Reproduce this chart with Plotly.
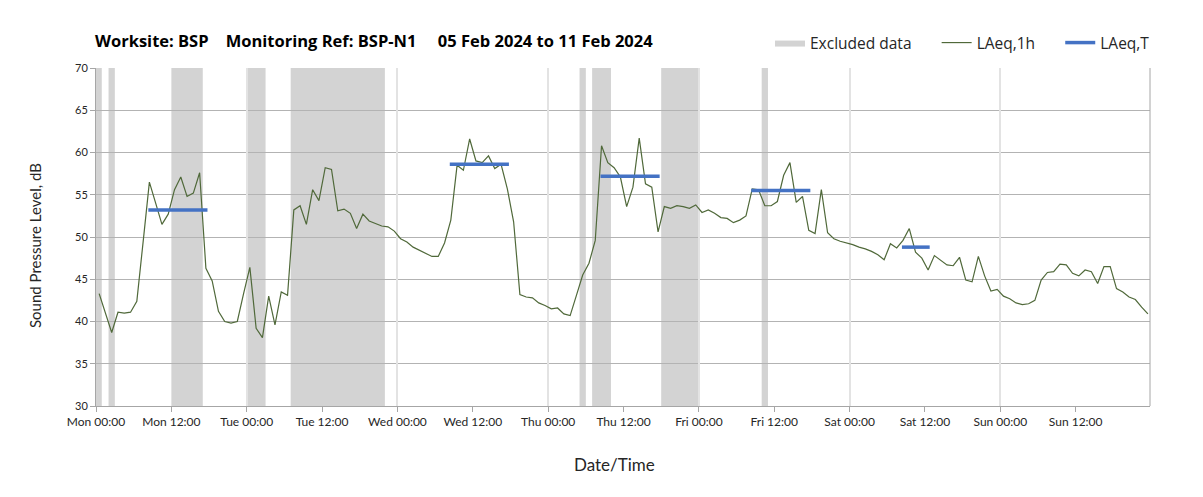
import pandas as pd
import plotly.graph_objects as go

# hourly LAeq,1h values, Mon 05 Feb 2024 00:00 -> Sun 11 Feb 2024 23:00
laeq_1h = [
    43.3, 40.9, 38.7, 41.1, 41.0, 41.1, 42.4, 49.4, 56.5, 54.0, 51.5, 52.7,
    55.6, 57.1, 54.8, 55.2, 57.6, 46.3, 44.8, 41.2, 40.0, 39.8, 40.0, 43.3,
    46.4, 39.2, 38.1, 43.0, 39.6, 43.5, 43.1, 53.2, 53.7, 51.5, 55.6, 54.3,
    58.2, 58.0, 53.1, 53.3, 52.8, 51.0, 52.7, 51.9, 51.6, 51.3, 51.2, 50.7,
    49.8, 49.4, 48.8, 48.4, 48.1, 47.7, 47.7, 49.3, 52.0, 58.5, 57.9, 61.6,
    59.0, 58.8, 59.6, 58.1, 58.6, 55.7, 51.8, 43.2, 42.9, 42.8, 42.2, 41.9,
    41.5, 41.6, 40.9, 40.7, 43.1, 45.5, 46.9, 49.6, 60.8, 58.8, 58.2, 57.1,
    53.6, 55.9, 61.7, 56.3, 55.9, 50.6, 53.6, 53.4, 53.7, 53.6, 53.4, 53.8,
    52.9, 53.2, 52.8, 52.3, 52.2, 51.7, 52.0, 52.5, 55.7, 55.6, 53.7, 53.7,
    54.2, 57.3, 58.8, 54.1, 54.8, 50.8, 50.4, 55.6, 50.5, 49.8, 49.5, 49.3,
    49.1, 48.8, 48.6, 48.3, 47.9, 47.3, 49.2, 48.7, 49.6, 51.0, 48.2, 47.5,
    46.1, 47.8, 47.3, 46.7, 46.6, 47.6, 44.9, 44.7, 47.7, 45.4, 43.6, 43.8,
    43.0, 42.7, 42.2, 42.0, 42.1, 42.5, 44.9, 45.8, 45.9, 46.8, 46.7, 45.7,
    45.4, 46.1, 45.9, 44.5, 46.5, 46.5, 43.9, 43.5, 42.9, 42.6, 41.7, 40.9,
]
hours = pd.date_range("2024-02-05 00:30", periods=len(laeq_1h), freq="h")

# LAeq,T periods
t_start = ["2024-02-05 08:00", "2024-02-07 08:00", "2024-02-08 08:00", "2024-02-09 08:00", "2024-02-10 08:00"]
t_end = ["2024-02-05 17:00", "2024-02-07 17:00", "2024-02-08 17:00", "2024-02-09 17:00", "2024-02-10 12:00"]
laeq_t = [53.2, 58.6, 57.2, 55.5, 48.8]

# excluded data periods
excl_start = ["2024-02-05 00:00", "2024-02-05 02:00", "2024-02-05 12:00", "2024-02-06 00:00",
              "2024-02-06 07:00", "2024-02-08 05:00", "2024-02-08 07:00", "2024-02-08 18:00",
              "2024-02-09 10:00"]
excl_end = ["2024-02-05 00:55", "2024-02-05 03:00", "2024-02-05 17:00", "2024-02-06 03:00",
            "2024-02-06 22:00", "2024-02-08 06:00", "2024-02-08 10:00", "2024-02-09 00:00",
            "2024-02-09 11:00"]

FONT = "Lato"
WIDE = "Open Sans"
NB = "\u00a0"

# page body has an 8px margin, so the figure is sized/placed to compensate
W, H = 1195, 489
L, T, R, B = 88, 60, 53, 91

tx, ty = [], []
for s, e, v in zip(t_start, t_end, laeq_t):
    tx += [pd.Timestamp(s) + pd.Timedelta(minutes=20), pd.Timestamp(e) + pd.Timedelta(minutes=45), None]
    ty += [v, v, None]

fig = go.Figure()
fig.add_trace(go.Scatter(x=[None], y=[None], name="Excluded data" + NB * 5, mode="lines", fill="toself",
                         fillcolor="#d3d3d3", line=dict(width=0, color="#d3d3d3"), xaxis="x2"))
fig.add_trace(go.Scatter(x=hours, y=laeq_1h, name="LAeq,1h" + NB * 5, mode="lines",
                         line=dict(color="#50693a", width=1.2)))
fig.add_trace(go.Scatter(x=tx, y=ty, name="LAeq,T", mode="lines",
                         line=dict(color="#4472c4", width=3.5)))

shapes = []
for s, e in zip(excl_start, excl_end):
    shapes.append(dict(type="rect", xref="x", yref="y", x0=s, x1=e, y0=30, y1=70,
                       fillcolor="#d3d3d3", line=dict(width=0), layer="below"))
# right edge of plot area
shapes.append(dict(type="line", xref="paper", yref="paper", x0=1, x1=1, y0=0, y1=1,
                   line=dict(color="#a6a6a6", width=1)))
# chart border
pw, ph = W - L - R, H - T - B
shapes.append(dict(type="rect", xref="paper", yref="paper",
                   x0=(5 - 8 - L) / pw, x1=(1197 - 8 - L) / pw,
                   y0=-0.4, y1=1.3,
                   line=dict(color="#d9d9d9", width=1)))

xr = ["2024-02-05 00:00", "2024-02-11 23:50"]
fig.update_layout(
    width=W, height=H,
    margin=dict(l=L, r=R, t=T, b=B),
    paper_bgcolor="white", plot_bgcolor="white",
    font=dict(family=FONT, color="#262626"),
    title=dict(text="<b>Worksite: BSP" + NB * 4 + "Monitoring Ref: BSP-N1" + NB * 5 + "05 Feb 2024 to 11 Feb 2024</b>",
               x=(95 - 8) / W, xanchor="left", y=1 - (41 - 8) / H, yanchor="middle",
               font=dict(size=16.5, family=WIDE, color="#000000")),
    showlegend=True,
    legend=dict(orientation="h", x=(770 - 8 - L) / pw, xanchor="left", y=1 + (T - (43 - 8)) / ph, yanchor="middle",
                font=dict(size=15.5, family=WIDE, color="#262626"), bgcolor="rgba(0,0,0,0)",
                traceorder="normal", itemwidth=30),
    xaxis=dict(type="date", range=xr, dtick=12 * 3600 * 1000, tick0="2024-02-05 00:00",
               tickformat="%a %H:%M", showgrid=False, showline=True, linecolor="#a6a6a6",
               ticks="outside", ticklen=5, tickcolor="#a6a6a6",
               tickfont=dict(size=12, color="#262626"), zeroline=False),
    xaxis2=dict(type="date", range=xr, overlaying="x", dtick=24 * 3600 * 1000, tick0="2024-02-05 00:00",
                showgrid=True, gridcolor="#e3e3e3", gridwidth=1.5, showticklabels=False, ticks="",
                showline=False, zeroline=False),
    yaxis=dict(range=[30, 70], dtick=5, showgrid=True, gridcolor="#b3b3b3", gridwidth=1,
               showline=True, linecolor="#a6a6a6", ticks="outside", ticklen=5, tickcolor="#a6a6a6",
               tickfont=dict(size=11, color="#262626"), zeroline=False),
    shapes=shapes,
    annotations=[
        dict(text="Date/Time", xref="paper", yref="paper", x=(614 - 8 - L) / pw, y=((H - B) - (464 - 8)) / ph,
             showarrow=False, xanchor="center", yanchor="middle", font=dict(size=17, family=FONT)),
        dict(text="Sound Pressure Level, dB", xref="paper", yref="paper", x=(35 - 8 - L) / pw,
             y=((H - B) - (246 - 8)) / ph, textangle=-90, showarrow=False, xanchor="center", yanchor="middle",
             font=dict(size=15, family=FONT)),
    ],
)

fig.write_html("out.html")
